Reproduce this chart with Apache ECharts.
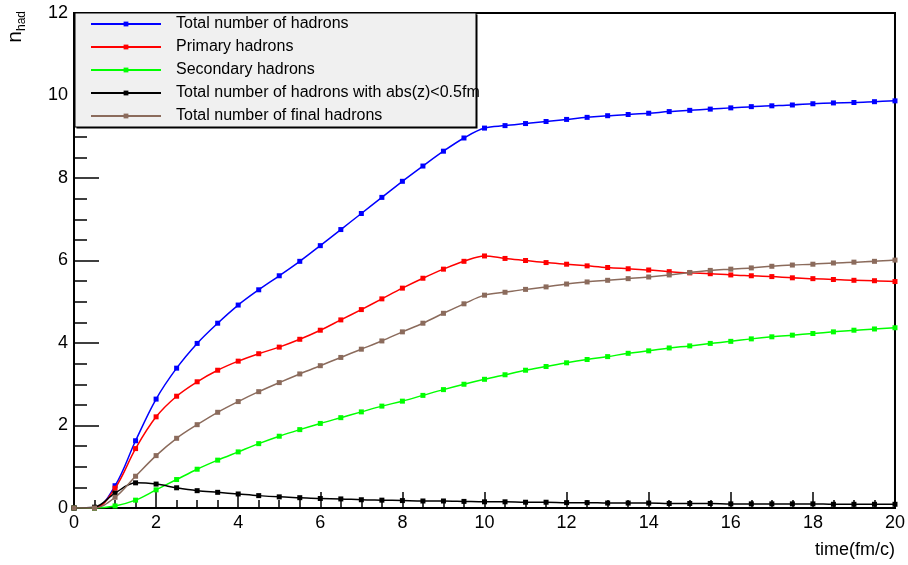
<!DOCTYPE html>
<html>
<head>
<meta charset="utf-8">
<script src="https://cdn.jsdelivr.net/npm/echarts@6/dist/echarts.min.js"></script>
<style>html,body{margin:0;padding:0;background:#fff}#c{width:908px;height:565px}</style>
</head>
<body>
<div id="c"></div>
<script>
const times = [0,0.5,1,1.5,2,2.5,3,3.5,4,4.5,5,5.5,6,6.5,7,7.5,8,8.5,9,9.5,10,10.5,11,11.5,12,12.5,13,13.5,14,14.5,15,15.5,16,16.5,17,17.5,18,18.5,19,19.5,20];
const totalHadrons = [0,0,0.54,1.63,2.64,3.39,3.99,4.48,4.92,5.29,5.63,5.98,6.36,6.75,7.14,7.53,7.92,8.29,8.65,8.97,9.21,9.27,9.32,9.37,9.42,9.47,9.51,9.54,9.57,9.61,9.64,9.67,9.70,9.73,9.75,9.77,9.80,9.82,9.83,9.85,9.87];
const primaryHadrons = [0,0,0.48,1.44,2.21,2.71,3.06,3.34,3.56,3.74,3.90,4.09,4.31,4.56,4.81,5.07,5.33,5.57,5.79,5.98,6.11,6.05,6.00,5.95,5.91,5.87,5.83,5.80,5.77,5.73,5.70,5.68,5.65,5.63,5.61,5.58,5.56,5.54,5.52,5.51,5.49];
const secondaryHadrons = [0,0,0.05,0.19,0.44,0.69,0.94,1.16,1.36,1.56,1.74,1.90,2.05,2.19,2.33,2.47,2.59,2.73,2.87,3.00,3.12,3.23,3.34,3.43,3.52,3.60,3.67,3.75,3.81,3.88,3.93,3.99,4.04,4.10,4.15,4.19,4.23,4.27,4.31,4.34,4.37];
const centralHadrons = [0,0.02,0.36,0.61,0.58,0.49,0.42,0.38,0.34,0.30,0.27,0.25,0.23,0.22,0.20,0.19,0.18,0.17,0.17,0.16,0.15,0.15,0.14,0.14,0.13,0.13,0.12,0.12,0.12,0.11,0.11,0.11,0.10,0.10,0.10,0.10,0.10,0.09,0.09,0.09,0.09];
const finalHadrons = [0,0,0.26,0.77,1.27,1.69,2.02,2.32,2.58,2.82,3.04,3.25,3.45,3.65,3.85,4.05,4.27,4.48,4.72,4.95,5.16,5.23,5.30,5.36,5.43,5.48,5.52,5.56,5.60,5.65,5.71,5.76,5.79,5.82,5.86,5.89,5.91,5.94,5.96,5.98,6.01];
const seriesNames = ['Total number of hadrons','Primary hadrons','Secondary hadrons','Total number of hadrons with abs(z)<0.5fm','Total number of final hadrons'];
const seriesColors = ['#0000ff','#ff0000','#00ff00','#000000','#8b6b5c'];
const seriesValues = [totalHadrons, primaryHadrons, secondaryHadrons, centralHadrons, finalHadrons];

const FONT = '"Liberation Sans", Arial, sans-serif';
const chart = echarts.init(document.getElementById('c'), null, {renderer:'canvas'});
chart.setOption({
  animation: false,
  backgroundColor: '#ffffff',
  grid: {left: 74, right: 10, top: 13, bottom: 57, show: true, borderColor: '#000', borderWidth: 2, backgroundColor: 'transparent'},
  graphic: [
    {type:'rect', z: 1, shape:{x:76.5, y:14.5, width:401, height:114}, style:{fill:'#000'}},
    {type:'rect', z: 2, shape:{x:75, y:13, width:401, height:114}, style:{fill:'#f0f0f0', stroke:'#000', lineWidth:1}},
    {type:'text', z: 5, x: 28, y: 11, rotation: Math.PI/2,
      style:{text:'{n|n}{s|had}', align:'right', verticalAlign:'bottom', fontFamily: FONT,
        rich:{n:{fontSize:21, lineHeight:26, fill:'#000', fontFamily: FONT}, s:{fontSize:12, lineHeight:12, verticalAlign:'bottom', fill:'#000', fontFamily: FONT}}}}
  ],
  legend: {
    show: true, orient: 'vertical', left: 90, top: 16, z: 10,
    itemWidth: 70, itemHeight: 6, itemGap: 7, padding: 0,
    textStyle: {fontSize: 16, color: '#000', fontFamily: FONT, padding: [0,0,0,10]},
    data: seriesNames
  },
  xAxis: {
    type: 'value', min: 0, max: 20, interval: 2,
    name: 'time(fm/c)', nameLocation: 'end', nameGap: 0,
    nameTextStyle: {fontSize: 18, color: '#000', fontFamily: FONT, align: 'right', verticalAlign: 'top', padding: [33,0,0,0]},
    axisLine: {show: true, onZero: false, lineStyle: {color: '#000', width: 2}},
    axisTick: {show: true, inside: true, length: 16, lineStyle: {color: '#000', width: 1.5}},
    minorTick: {show: true, splitNumber: 4, length: 8, lineStyle: {color: '#000', width: 1.5}},
    axisLabel: {fontSize: 18, color: '#000', fontFamily: FONT, margin: 6},
    splitLine: {show: false}
  },
  yAxis: {
    type: 'value', min: 0, max: 12, interval: 2,
    axisLine: {show: true, onZero: false, lineStyle: {color: '#000', width: 2}},
    axisTick: {show: true, inside: true, length: 25, lineStyle: {color: '#000', width: 1.5}},
    minorTick: {show: true, splitNumber: 4, length: 13, lineStyle: {color: '#000', width: 1.5}},
    axisLabel: {fontSize: 18, color: '#000', fontFamily: FONT, margin: 6},
    splitLine: {show: false}
  },
  series: seriesNames.map((nm, i) => ({
    name: nm, type: 'line', smooth: 0.35,
    symbol: 'rect', symbolSize: 5, showSymbol: true,
    lineStyle: {color: seriesColors[i], width: 1.5},
    itemStyle: {color: seriesColors[i]},
    z: 3 + i,
    data: times.map((t, k) => [t, seriesValues[i][k]])
  }))
});
</script>
</body>
</html>
